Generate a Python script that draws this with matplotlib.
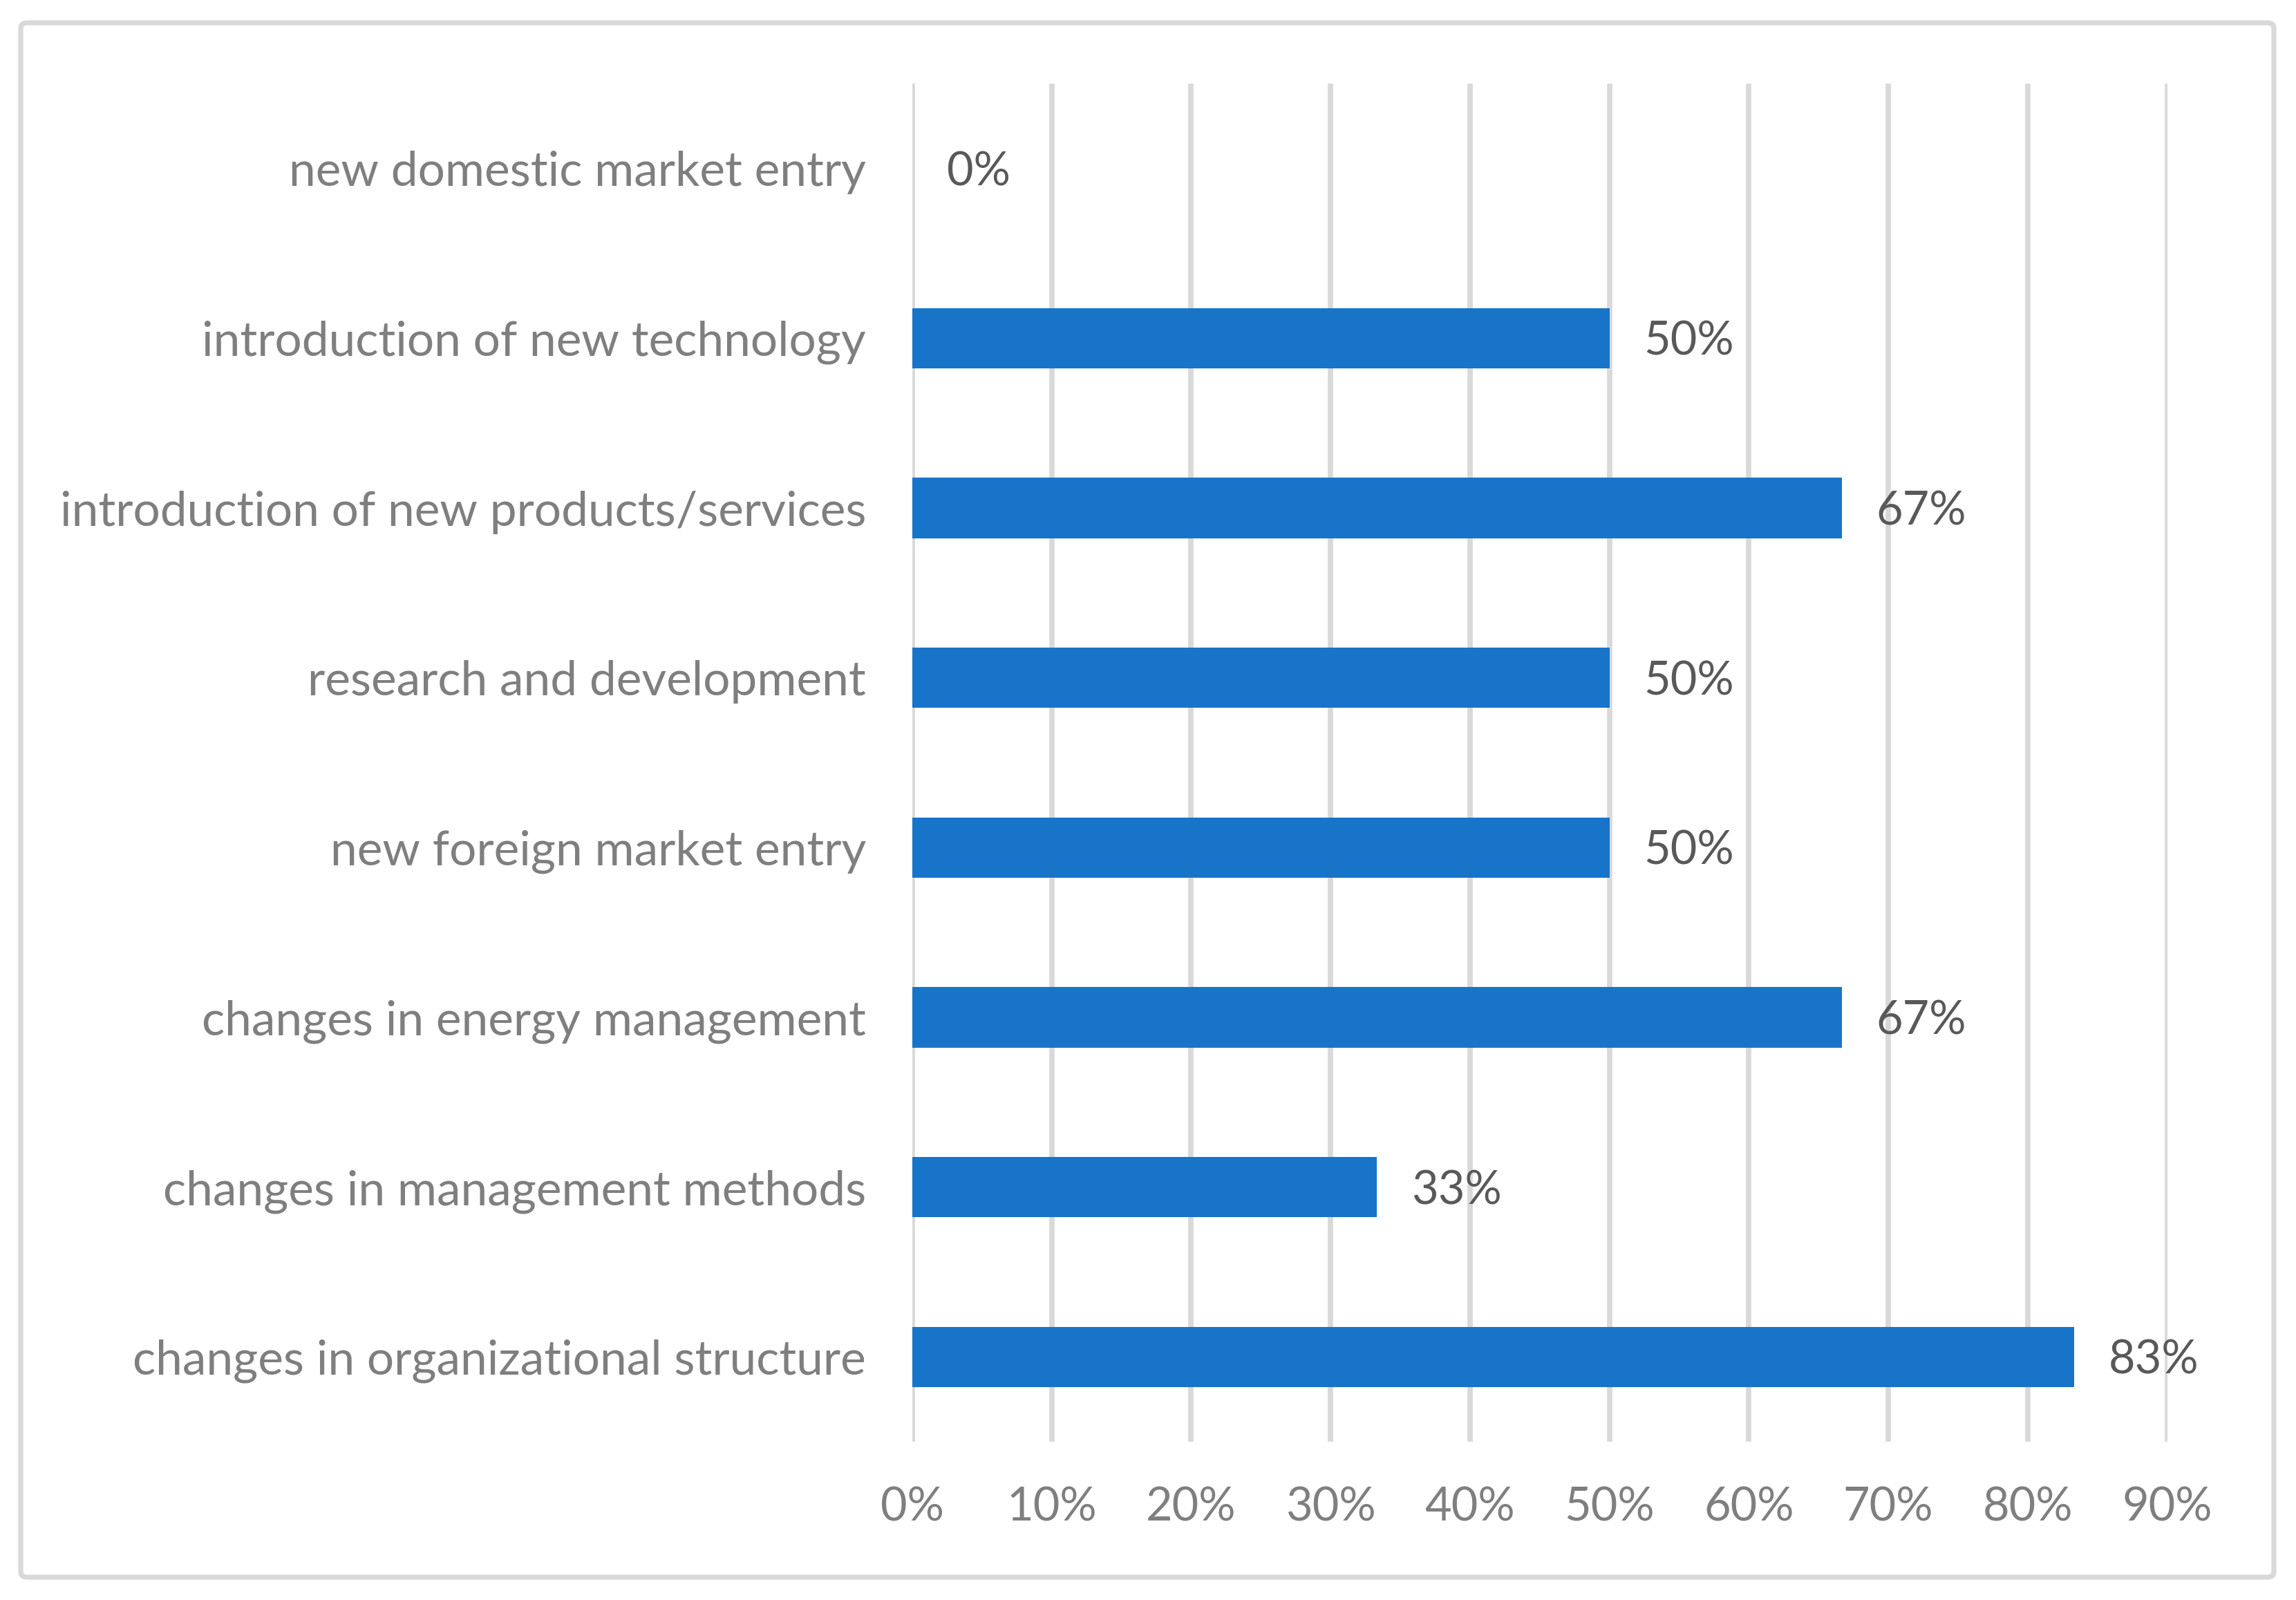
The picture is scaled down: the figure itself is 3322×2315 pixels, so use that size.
import matplotlib
matplotlib.use("Agg")
import matplotlib.pyplot as plt
from matplotlib.patches import FancyBboxPatch
from matplotlib.ticker import FixedLocator

categories = [
    "changes in organizational structure",
    "changes in management methods",
    "changes in energy management",
    "new foreign market entry",
    "research and development",
    "introduction of new products/services",
    "introduction of new technology",
    "new domestic market entry",
]
values = [5/6, 2/6, 4/6, 3/6, 3/6, 4/6, 3/6, 0.0]
value_labels = ["83%", "33%", "67%", "50%", "50%", "67%", "50%", "0%"]
xticks = [0.0, 0.1, 0.2, 0.3, 0.4, 0.5, 0.6, 0.7, 0.8, 0.9]
xtick_labels = ["0%", "10%", "20%", "30%", "40%", "50%", "60%", "70%", "80%", "90%"]

plt.rcParams['font.family'] = ['Lato', 'DejaVu Sans']
FS = 24
FS_CAT = 25
BAR = '#1874C8'
GRID = '#D9D9D9'
LABEL = '#7F7F7F'
DLABEL = '#595959'

fig = plt.figure(figsize=(16.61, 11.575), dpi=200)
fig.patch.set_facecolor('white')

# outer chart border
border = FancyBboxPatch((30/3322, 33/2315), (3290-30)/3322, (2282-33)/2315,
                        boxstyle="round,pad=0,rounding_size=0.003",
                        transform=fig.transFigure, fill=False,
                        edgecolor=GRID, linewidth=2.6)
fig.patches.append(border)

ax = fig.add_axes([0.3973, 0.0988, 0.9439 - 0.3973, 0.9478 - 0.0988])
y = list(range(len(categories)))
ax.barh(y, values, height=0.355, color=BAR, zorder=3)
ax.set_xlim(0, 0.9)
ax.set_ylim(-0.5, len(categories) - 0.5)
ax.xaxis.set_major_locator(FixedLocator(xticks))
ax.set_xticklabels(xtick_labels)
ax.set_yticks(y)
ax.set_yticklabels(categories)
ax.grid(axis='x', color=GRID, linewidth=2.8, zorder=0)
ax.tick_params(axis='both', length=0, colors=LABEL)
ax.tick_params(axis='x', labelsize=FS, pad=23)
ax.tick_params(axis='y', labelsize=FS_CAT, pad=24)
for s in ax.spines.values():
    s.set_visible(False)

for yi, v, lab in zip(y, values, value_labels):
    ax.annotate(lab, (v, yi), xytext=(18, -2), textcoords='offset points',
                ha='left', va='center', fontsize=FS, color=DLABEL)

fig.savefig('out.png', dpi=200)
